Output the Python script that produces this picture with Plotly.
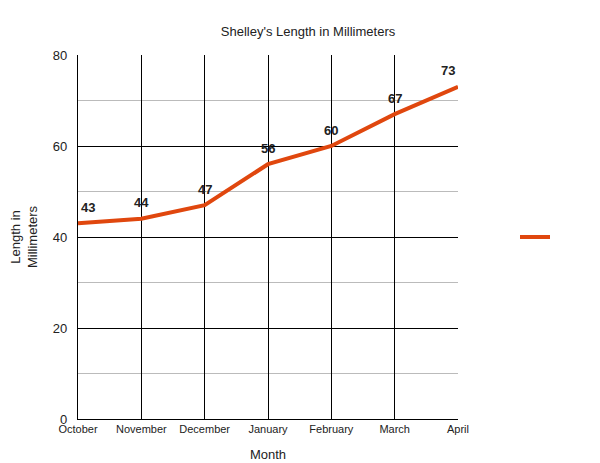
import plotly.graph_objects as go

months = ["October", "November", "December", "January", "February", "March", "April"]
lengths = [43, 44, 47, 56, 60, 67, 73]

fig = go.Figure()
fig.add_trace(go.Scatter(
    x=months, y=lengths, mode="lines", name=" ",
    line=dict(color="#E0470E", width=4), showlegend=True, cliponaxis=False,
))
for i, (m, v) in enumerate(zip(months, lengths)):
    xs = 10 if i == 0 else (-10 if i == len(months) - 1 else 0)
    fig.add_annotation(x=m, y=v, text=f"<b>{v}</b>", showarrow=False, yshift=16, xshift=xs,
                       font=dict(family="Arial", size=13, color="#222"))
fig.update_layout(
    width=600, height=463, plot_bgcolor="white", paper_bgcolor="white",
    margin=dict(l=70, r=150, t=47, b=52, autoexpand=False),
    font=dict(family="Arial", size=12, color="#222"),
    title=dict(text="Shelley's Length in Millimeters", x=0.5, xanchor="center", y=0.96, font=dict(size=13)),
    legend=dict(x=1.15, y=0.5, yanchor="middle", font=dict(size=11)),
    xaxis=dict(title=dict(text="Month", font=dict(size=13)), showgrid=True, gridcolor="black",
               linecolor="black", tickfont=dict(size=11), range=[0, 6], ticks="", automargin=False),
    yaxis=dict(title=dict(text="Length in<br>Millimeters", font=dict(size=13)), range=[0, 80],
               dtick=20, gridcolor="black", linecolor="black", tickfont=dict(size=13),
               ticksuffix="  ", automargin=False,
               minor=dict(dtick=10, showgrid=True, gridcolor="#bbbbbb"), zeroline=False),
)
fig.write_html("out.html")
